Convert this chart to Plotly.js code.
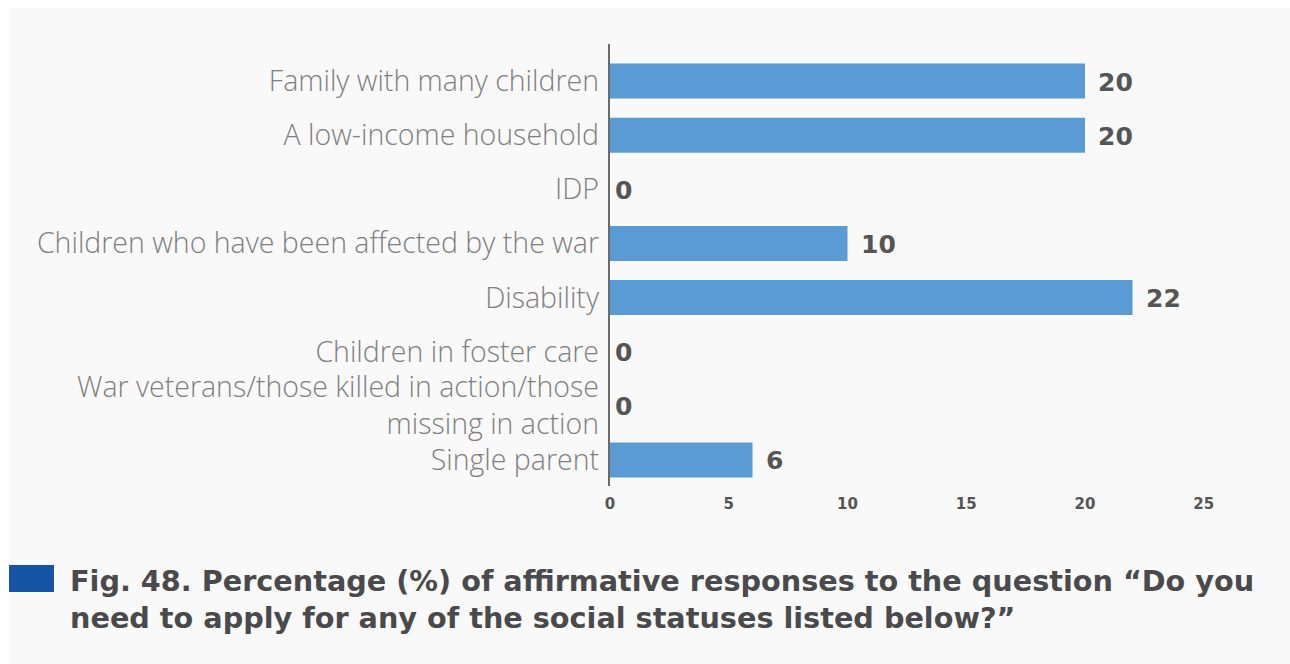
<!DOCTYPE html>
<html>
<head>
<meta charset="utf-8">
<script src="https://cdn.plot.ly/plotly-3.0.1.min.js"></script>
<style>
  html, body { margin:0; padding:0; background:#ffffff; width:1290px; height:664px; overflow:hidden; }
  #chart { position:absolute; left:9px; top:8px; width:1281px; height:656px; }
</style>
</head>
<body>
<div id="chart"></div>
<script>
const categories = [
  "Family with many children",
  "A low-income household",
  "IDP",
  "Children who have been affected by the war",
  "Disability",
  "Children in foster care",
  "War veterans/those killed in action/those<br>missing in action",
  "Single parent"
];
const values = [20, 20, 0, 10, 22, 0, 0, 6];
const xTickValues = [0, 5, 10, 15, 20, 25];
const captionLines = [
  "Fig. 48. Percentage (%) of affirmative responses to the question “Do you",
  "need to apply for any of the social statuses listed below?”"
];

const W = 1281, H = 656;
const M = {l: 601, r: 15, t: 46, b: 177};
const plotW = W - M.l - M.r, plotH = H - M.t - M.b;
// convert page pixel coords to paper coords
const px = x => ((x - 9) - M.l) / plotW;
const py = y => (H - M.b - (y - 8)) / plotH;

const boldFont = '"DejaVu Sans", sans-serif';

const labelAnnotations = values.map((v, i) => ({
  x: v, y: categories[i], xref: 'x', yref: 'y',
  text: String(v), showarrow: false, xanchor: 'left', yanchor: 'middle',
  xshift: v === 0 ? 3 : 11, yshift: -1,
  font: {family: boldFont, size: 25, color: '#555555', weight: 700}
}));

const captionAnnotation = {
  x: px(68), y: py(599), xref: 'paper', yref: 'paper',
  text: captionLines.join('<br>'), showarrow: false, xanchor: 'left', yanchor: 'middle', align: 'left',
  font: {family: boldFont, size: 28.7, color: '#4a4a4c', weight: 700}
};

const trace = {
  type: 'bar', orientation: 'h',
  x: values, y: categories,
  marker: {color: '#5b9bd5'},
  hoverinfo: 'none'
};

const layout = {
  width: W, height: H,
  margin: M,
  paper_bgcolor: '#f9f9f9',
  plot_bgcolor: '#f9f9f9',
  bargap: 0.354,
  showlegend: false,
  xaxis: {
    range: [0, 28], showgrid: false, zeroline: false, showline: false,
    tickvals: xTickValues, ticks: '', ticklabelstandoff: 6,
    tickfont: {family: boldFont, size: 15, color: '#555555', weight: 700},
    fixedrange: true
  },
  yaxis: {
    type: 'category', autorange: 'reversed', showgrid: false, zeroline: false, showline: false,
    ticks: '', ticklabelstandoff: 10,
    tickfont: {family: '"Open Sans", sans-serif', size: 28.5, color: '#808080', weight: 300},
    fixedrange: true
  },
  shapes: [
    {type: 'line', xref: 'paper', yref: 'paper', x0: px(609), x1: px(609), y0: py(486), y1: py(44),
     line: {color: '#6b6b6b', width: 2}},
    {type: 'rect', xref: 'paper', yref: 'paper', x0: px(9), x1: px(54), y0: py(592), y1: py(565),
     fillcolor: '#1655a5', line: {width: 0}}
  ],
  annotations: labelAnnotations.concat([captionAnnotation])
};

Plotly.newPlot('chart', [trace], layout, {displayModeBar: false, staticPlot: true});
</script>
</body>
</html>
